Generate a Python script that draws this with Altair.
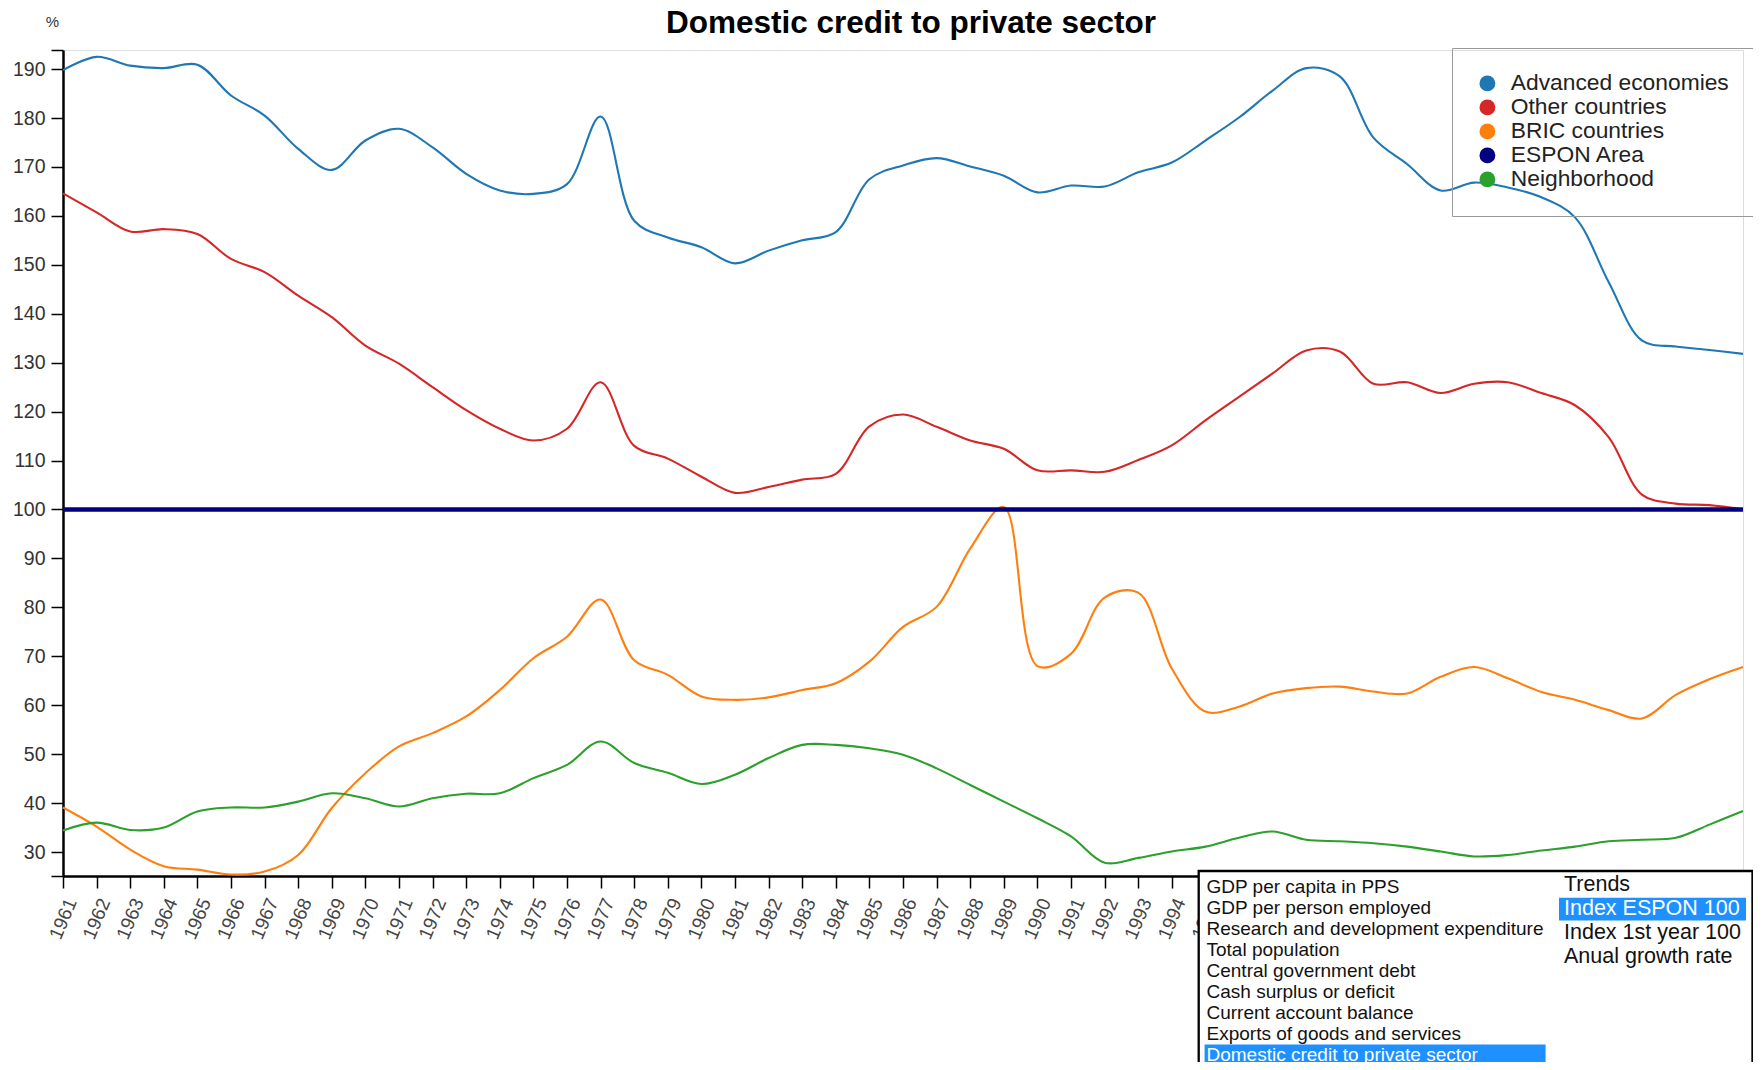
import altair as alt
import pandas as pd

FONT = "Liberation Sans"

years = list(range(1961, 2012))

series_order = ["Advanced economies", "Other countries", "BRIC countries", "ESPON Area", "Neighborhood"]
series_colors = ["#1f77b4", "#d62728", "#ff7f0e", "#000080", "#2ca02c"]

advanced = [189.8, 192.5, 190.7, 190.2, 190.9, 184.6, 180.5, 173.7, 169.4, 175.4, 177.8, 174.0, 168.6, 165.2, 164.5, 166.5, 180.3,
            159.0, 155.6, 153.6, 150.3, 152.9, 155.0, 156.7, 167.5, 170.3, 171.8, 170.1, 168.2, 164.8, 166.2, 166.0, 168.9,
            170.9, 175.4, 180.1, 185.6, 190.2, 188.5, 176.0, 170.6, 165.2, 166.8, 165.8, 163.8, 159.7, 146.5, 134.5, 133.3, 132.6, 131.8]
other = [164.6, 160.7, 156.8, 157.3, 156.3, 151.2, 148.5, 143.7, 139.3, 133.5, 129.8, 125.0, 120.3, 116.5, 114.1, 116.5, 126.0,
         113.0, 110.4, 106.7, 103.4, 104.6, 106.1, 107.3, 117.0, 119.4, 116.9, 114.1, 112.4, 108.0, 108.0, 107.7, 110.1,
         113.1, 118.2, 123.0, 127.8, 132.5, 132.3, 125.7, 126.0, 123.8, 125.7, 126.0, 123.8, 121.3, 114.8, 103.0, 101.2, 100.9, 100.0]
bric = [39.1, 35.2, 30.5, 27.1, 26.4, 25.4, 26.0, 29.4, 39.0, 46.1, 51.6, 54.3, 57.7, 63.1, 69.6, 74.0, 81.6,
        69.2, 66.2, 61.8, 61.1, 61.6, 63.1, 64.5, 68.9, 76.0, 80.1, 92.0, 100.5, 68.0, 70.5, 82.0, 83.0,
        67.5, 58.7, 59.7, 62.4, 63.5, 63.8, 62.8, 62.4, 65.8, 67.8, 65.5, 62.7, 61.1, 59.0, 57.3, 62.1, 65.3, 67.8]
espon = [100, 100, 100, 100, 100, 100, 100, 100, 100, 100, 100, 100, 100, 100, 100, 100, 100,
         100, 100, 100, 100, 100, 100, 100, 100, 100, 100, 100, 100, 100, 100, 100, 100,
         100, 100, 100, 100, 100, 100, 100, 100, 100, 100, 100, 100, 100, 100, 100, 100, 100, 100]
neighborhood = [34.4, 36.0, 34.5, 35.0, 38.3, 39.1, 39.1, 40.3, 42.0, 41.0, 39.3, 41.0, 41.9, 42.0, 45.1, 47.8, 52.6,
                48.2, 46.2, 43.9, 45.8, 49.2, 51.9, 51.9, 51.2, 49.9, 47.1, 43.7, 40.3, 36.9, 33.2, 27.8, 28.8,
                30.1, 31.1, 32.9, 34.2, 32.5, 32.2, 31.8, 31.1, 30.1, 29.1, 29.4, 30.3, 31.1, 32.2, 32.5, 32.9, 35.6, 38.4]

y_ticks = [30, 40, 50, 60, 70, 80, 90, 100, 110, 120, 130, 140, 150, 160, 170, 180, 190]
y_domain = [25.1, 193.9]

title_text = "Domestic credit to private sector"
unit_text = "%"

indicators = ["GDP per capita in PPS", "GDP per person employed", "Research and development expenditure",
              "Total population", "Central government debt", "Cash surplus or deficit",
              "Current account balance", "Exports of goods and services", "Domestic credit to private sector"]
trends = ["Trends", "Index ESPON 100", "Index 1st year 100", "Anual growth rate"]
selected_indicator = "Domestic credit to private sector"
selected_trend = "Index ESPON 100"

rows = []
for name, vals in zip(series_order, [advanced, other, bric, espon, neighborhood]):
    for yr, v in zip(years, vals):
        rows.append({"year": yr, "series": name, "value": v})
df = pd.DataFrame(rows)

x_enc = alt.X("year:Q", scale=alt.Scale(domain=[1961, 2011], nice=False, zero=False),
              axis=alt.Axis(values=years, tickCount=200, format="d", title=None, grid=False,
                            labelAngle=-67, labelAlign="right", labelBaseline="middle",
                            labelPadding=11, labelOffset=8, labelFlush=False, labelOverlap=False,
                            labelFontSize=19, labelColor="#444", labelFont=FONT,
                            tickSize=12, tickColor="black", tickWidth=1.5,
                            domainColor="black", domainWidth=2.5))
y_enc = alt.Y("value:Q", scale=alt.Scale(domain=y_domain, nice=False, zero=False),
              axis=alt.Axis(values=[y_domain[0]] + y_ticks + [y_domain[1]], tickCount=200,
                            labelExpr="datum.value % 10 === 0 ? datum.label : ''",
                            title=None, grid=False, labelPadding=6, labelOverlap=False,
                            labelFontSize=19.5, labelColor="#333", labelFont=FONT,
                            tickSize=12, tickColor="black", tickWidth=1.5,
                            domainColor="black", domainWidth=2.5))

color_scale = alt.Scale(domain=series_order, range=series_colors)
legend_def = alt.Legend(title=None, orient="none", legendX=1389, legendY=-2,
                        symbolType="circle", symbolSize=250, symbolStrokeWidth=0,
                        labelFontSize=22.8, labelFont=FONT, labelColor="#222", labelLimit=0,
                        labelOffset=12, rowPadding=0, padding=24,
                        strokeColor="#999999")

legend_pts = alt.Chart(df).mark_point(filled=True, opacity=1, size=250).encode(
    x=x_enc,
    y=y_enc,
    color=alt.Color("series:N", scale=color_scale, legend=legend_def),
).transform_filter("false")

lines = alt.Chart(df).transform_filter(alt.datum.series != "ESPON Area").mark_line(
    interpolate="catmull-rom", strokeWidth=2.1).encode(
    x="year:Q",
    y="value:Q",
    color=alt.Color("series:N", scale=color_scale),
)

espon_line = alt.Chart(df).transform_filter(alt.datum.series == "ESPON Area").mark_line(
    strokeWidth=4.5).encode(
    x="year:Q",
    y="value:Q",
    color=alt.Color("series:N", scale=color_scale),
)

one = pd.DataFrame({"a": [0]})


def label(text, x, y, size, color="#111", weight="normal", align="left", baseline="middle"):
    return alt.Chart(one).mark_text(font=FONT, fontSize=size, fontWeight=weight, color=color,
                                    align=align, baseline=baseline).encode(
        x=alt.value(x), y=alt.value(y), text=alt.value(text))


title_mark = label(title_text, 848, -17, 31.5, color="black", weight="bold", align="center", baseline="alphabetic")
unit_mark = label(unit_text, -10.5, -28, 15, color="#333", align="center")

box = alt.Chart(one).mark_rect(fill="white", stroke="black", strokeWidth=2.3).encode(
    x=alt.value(1135.7), x2=alt.value(1689.5), y=alt.value(821), y2=alt.value(1030))
hl_left = alt.Chart(one).mark_rect(fill="#1E90FF").encode(
    x=alt.value(1141.6), x2=alt.value(1482.6), y=alt.value(994.5), y2=alt.value(1016))
hl_right = alt.Chart(one).mark_rect(fill="#1E90FF").encode(
    x=alt.value(1496), x2=alt.value(1683), y=alt.value(847.8), y2=alt.value(870.4))

menu_layers = []
for i, name in enumerate(indicators):
    menu_layers.append(label(name, 1143.5, 836.5 + i * 21.0, 19,
                             color="white" if name == selected_indicator else "#111"))
for i, name in enumerate(trends):
    menu_layers.append(label(name, 1501, 834.8 + i * 24, 21.5,
                             color="white" if name == selected_trend else "#111"))

chart = alt.layer(
    legend_pts, lines, espon_line, box, hl_left, hl_right, *menu_layers, title_mark, unit_mark
).properties(
    width=1680, height=826,
    autosize=alt.AutoSizeParams(type="none"),
    padding={"left": 55, "top": 42, "right": 10, "bottom": 186},
).configure_view(
    stroke=None, strokeWidth=0
).configure_axis(
    grid=False
).configure_legend(strokeWidth=2).configure(font=FONT)

chart.save("out.html", embed_options={"renderer": "svg", "actions": False})
